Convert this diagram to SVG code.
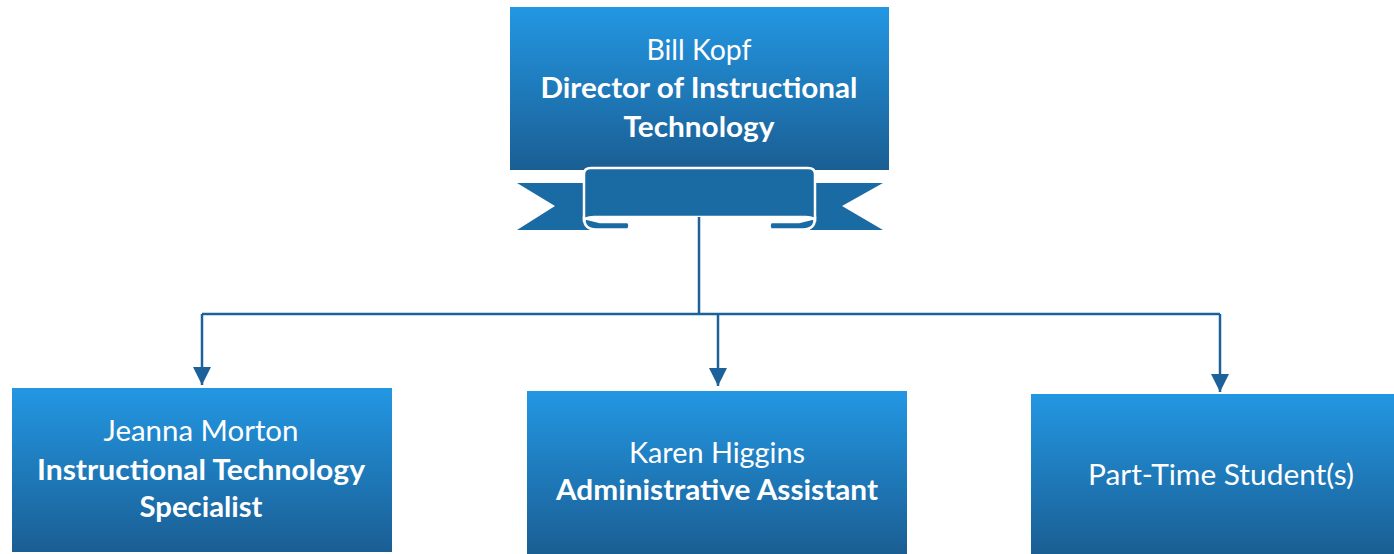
<svg xmlns="http://www.w3.org/2000/svg" width="1394" height="554" viewBox="0 0 1394 554">
<defs>
<linearGradient id="g" x1="0" y1="0" x2="0" y2="1">
<stop offset="0" stop-color="#2397e3"/>
<stop offset="1" stop-color="#1a5e93"/>
</linearGradient>
<marker id="ah" markerWidth="18" markerHeight="18" viewBox="0 0 18 18" refX="18" refY="9" orient="auto" markerUnits="userSpaceOnUse">
<path d="M0,0 L18,9 L0,18 Z" fill="#1c6199"/>
</marker>
</defs>
<style>
.box{fill:url(#g);}
.t{font-family:Lato,"Open Sans","Liberation Sans",sans-serif;fill:#fff;text-anchor:middle;font-size:28.5px;}
.b{font-weight:bold;}
.c{fill:none;stroke:#1c6199;stroke-width:2.5;}
.rib{fill:#1a6aa4;}
.ribw{fill:#1a6aa4;stroke:#fff;stroke-width:2.5;}
</style>
<g id="director">
<rect class="box" x="510" y="7" width="379" height="163"/>
<path class="rib" d="M517,183 L590,183 L590,230 L517,230 L555,206 Z"/>
<path class="rib" d="M883,183 L810,183 L810,230 L883,230 L842,206 Z"/>
<path class="ribw" d="M584,218 Q584,229.5 596,229.5 L628,229.5 Q631,226 628,222 L600,222 Z"/>
<path class="ribw" d="M815,218 Q815,229.5 803,229.5 L771,229.5 Q768,226 771,222 L799,222 Z"/>
<path class="ribw" d="M584,222 L584,174 Q584,168 591,168 L808,168 Q815,168 815,174 L815,222 Q815,217 806,217 L594,217 Q584,217 584,222 Z"/>
<text class="t" x="699" y="60" textLength="105" lengthAdjust="spacingAndGlyphs">Bill Kopf</text>
<text class="t b" x="699" y="98" textLength="317" lengthAdjust="spacingAndGlyphs">Director of Instructional</text>
<text class="t b" x="699" y="137" textLength="151" lengthAdjust="spacingAndGlyphs">Technology</text>
</g>
<g id="connectors">
<path class="c" d="M699,217 L699,314"/>
<path class="c" d="M202,314 L1220,314"/>
<path class="c" d="M202,314 L202,385" marker-end="url(#ah)"/>
<path class="c" d="M718,314 L718,386" marker-end="url(#ah)"/>
<path class="c" d="M1220,314 L1220,392" marker-end="url(#ah)"/>
</g>
<g id="jeanna">
<rect class="box" x="12" y="388" width="380" height="164"/>
<text class="t" x="201" y="441" textLength="195" lengthAdjust="spacingAndGlyphs">Jeanna Morton</text>
<text class="t b" x="201" y="480" textLength="328" lengthAdjust="spacingAndGlyphs">Instructional Technology</text>
<text class="t b" x="201" y="517" textLength="123" lengthAdjust="spacingAndGlyphs">Specialist</text>
</g>
<g id="karen">
<rect class="box" x="527" y="391" width="380" height="163"/>
<text class="t" x="717" y="463" textLength="176" lengthAdjust="spacingAndGlyphs">Karen Higgins</text>
<text class="t b" x="717" y="500" textLength="322" lengthAdjust="spacingAndGlyphs">Administrative Assistant</text>
</g>
<g id="students">
<rect class="box" x="1031" y="394" width="363" height="160"/>
<text class="t" x="1221" y="485" textLength="266" lengthAdjust="spacingAndGlyphs">Part-Time Student(s)</text>
</g>
</svg>
